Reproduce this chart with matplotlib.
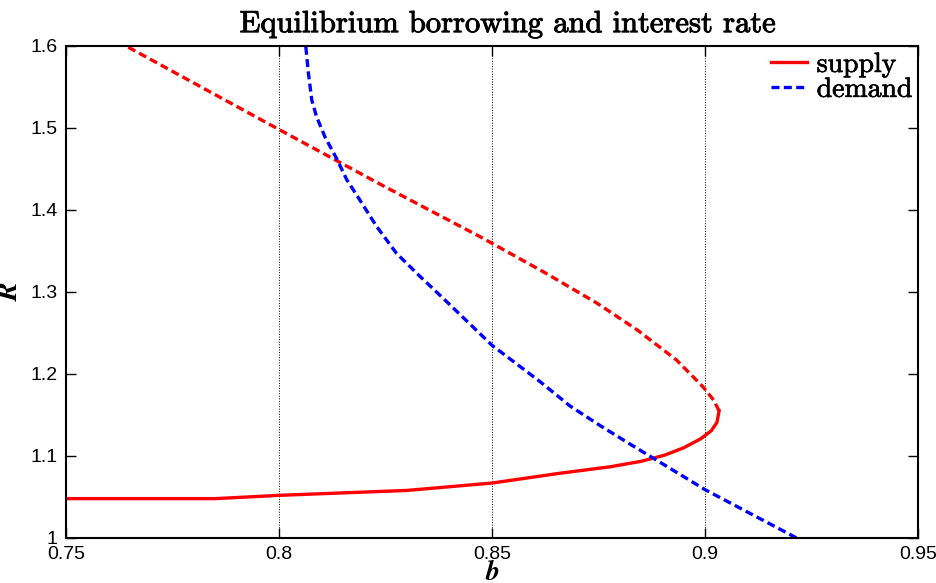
import matplotlib
matplotlib.use('Agg')
import matplotlib.pyplot as plt
import matplotlib.patheffects as pe
from matplotlib.ticker import FormatStrFormatter

# supply curve, lower (stable) branch
supply_b_low = [0.750, 0.785, 0.800, 0.815, 0.830, 0.850, 0.866, 0.8777, 0.8850, 0.8905,
                0.8950, 0.8990, 0.9015, 0.9028, 0.9033]
supply_R_low = [1.048, 1.048, 1.052, 1.055, 1.058, 1.067, 1.079, 1.0868, 1.0935, 1.1010,
                1.1100, 1.1210, 1.1310, 1.1410, 1.155]

# supply curve, upper branch (dashed)
supply_b_up = [0.9033, 0.9020, 0.8995, 0.8933, 0.8841, 0.8747, 0.8620, 0.8472, 0.8250, 0.8002, 0.7641]
supply_R_up = [1.155, 1.1683, 1.1845, 1.2171, 1.2537, 1.2862, 1.3248, 1.3674, 1.428, 1.4976, 1.600]

# demand curve
demand_b = [0.8063, 0.8069, 0.8077, 0.8088, 0.8108, 0.8135, 0.8159, 0.8190, 0.8229, 0.8276,
            0.8331, 0.8386, 0.8500, 0.8613, 0.8683, 0.8754, 0.8824, 0.8879, 0.9000, 0.9215]
demand_R = [1.599, 1.567, 1.534, 1.514, 1.489, 1.463, 1.437, 1.412, 1.380, 1.347,
            1.319, 1.292, 1.235, 1.1906, 1.161, 1.137, 1.1145, 1.0972, 1.059, 1.000]

plt.rcParams['mathtext.fontset'] = 'cm'

fig = plt.figure(figsize=(9.36, 5.83), dpi=100)
ax = fig.add_axes([0.0705, 0.0772, 0.9103, 0.8439])

ax.plot(supply_b_low, supply_R_low, color='red', lw=2.4, label='supply')
ax.plot(supply_b_up, supply_R_up, color='red', lw=2.4, dashes=(2.4, 1.3))
ax.plot(demand_b, demand_R, color='blue', lw=2.4, dashes=(2.4, 1.3), label='demand')

ax.set_xlim(0.75, 0.95)
ax.set_ylim(1, 1.6)
ax.set_xticks([0.75, 0.8, 0.85, 0.9, 0.95])
ax.set_yticks([1, 1.1, 1.2, 1.3, 1.4, 1.5, 1.6])
ax.xaxis.set_major_formatter(FormatStrFormatter('%g'))
ax.yaxis.set_major_formatter(FormatStrFormatter('%g'))
ax.tick_params(direction='in', top=True, right=True, length=7, width=1,
               labelsize=14, pad=6)
for lab in ax.get_xticklabels() + ax.get_yticklabels():
    lab.set_family('Liberation Sans')
for s in ax.spines.values():
    s.set_linewidth(1.5)

ax.xaxis.grid(True, linestyle=':', color='k', lw=0.7)

heavy = [pe.withStroke(linewidth=0.7, foreground='k')]
ax.set_title('Equilibrium borrowing and interest rate', family='cmr10',
             fontsize=22, x=0.518, pad=10, path_effects=heavy)
ax.set_xlabel('b', family='STIXGeneral', style='italic', weight='bold', fontsize=20)
ax.set_ylabel('R', family='STIXGeneral', style='italic', weight='bold', fontsize=20)
ax.xaxis.set_label_coords(0.5, -0.044)
ax.yaxis.set_label_coords(-0.049, 0.5)

leg = ax.legend(loc='upper right', frameon=False, prop={'family': 'cmr10', 'size': 20},
                handlelength=1.3, handletextpad=0.36, borderaxespad=0.05,
                borderpad=0.15, labelspacing=-0.05)
for t in leg.get_texts():
    t.set_path_effects([pe.withStroke(linewidth=0.5, foreground='k')])

fig.savefig('out.png', dpi=100)
